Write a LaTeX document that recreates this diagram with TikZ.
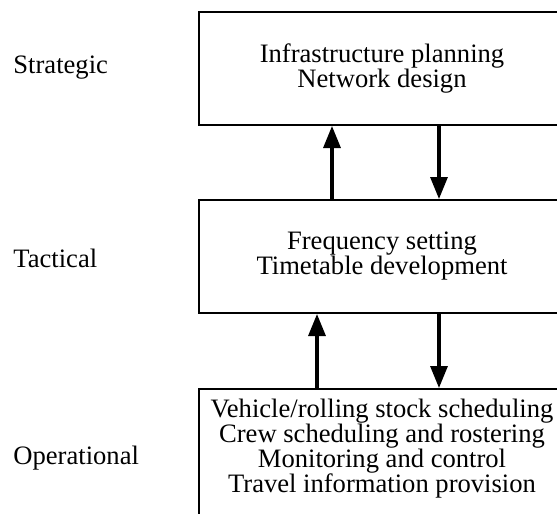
\documentclass[tikz,border=0pt]{standalone}
\usepackage{fontspec}
\setmainfont{Liberation Serif}
\usetikzlibrary{arrows.meta}
\begin{document}
\begin{tikzpicture}[x=0.5pt,y=-0.5pt,
		level/.style={draw,line width=1pt,minimum width=183pt,align=center,inner sep=5pt,font=\fontsize{13.3}{12.5}\selectfont},
		tag/.style={anchor=base west,inner sep=0pt,font=\fontsize{13.3}{12.5}\selectfont},
		link/.style={line width=1.6pt,-{Triangle[length=11pt,width=8.5pt]}}]
	\useasboundingbox (0,0) rectangle (557,514);
	% boxes
	\node[level,minimum height=56.5pt] (strat) at (382,68.5) {Infrastructure planning\\Network design};
	\node[level,minimum height=56.5pt] (tac) at (382,256.5) {Frequency setting\\Timetable development};
	\node[level,anchor=north,text depth=12pt] (ops) at (382,388) {Vehicle/rolling stock scheduling\\Crew scheduling and rostering\\Monitoring and control\\Travel information provision};
	% levels
	\node[tag] (lstrat) at (13,73) {Strategic};
	\node[tag] (ltac) at (13,267) {Tactical};
	\node[tag] (lops) at (13,464) {Operational};
	% arrows
	\coordinate (up1) at (332,0);
	\coordinate (down1) at (439,0);
	\coordinate (up2) at (317,0);
	\coordinate (down2) at (439,0);
	\draw[link] (tac.north -| up1) -- (strat.south -| up1);
	\draw[link] (strat.south -| down1) -- (tac.north -| down1);
	\draw[link] (ops.north -| up2) -- (tac.south -| up2);
	\draw[link] (tac.south -| down2) -- (ops.north -| down2);
\end{tikzpicture}
\end{document}
